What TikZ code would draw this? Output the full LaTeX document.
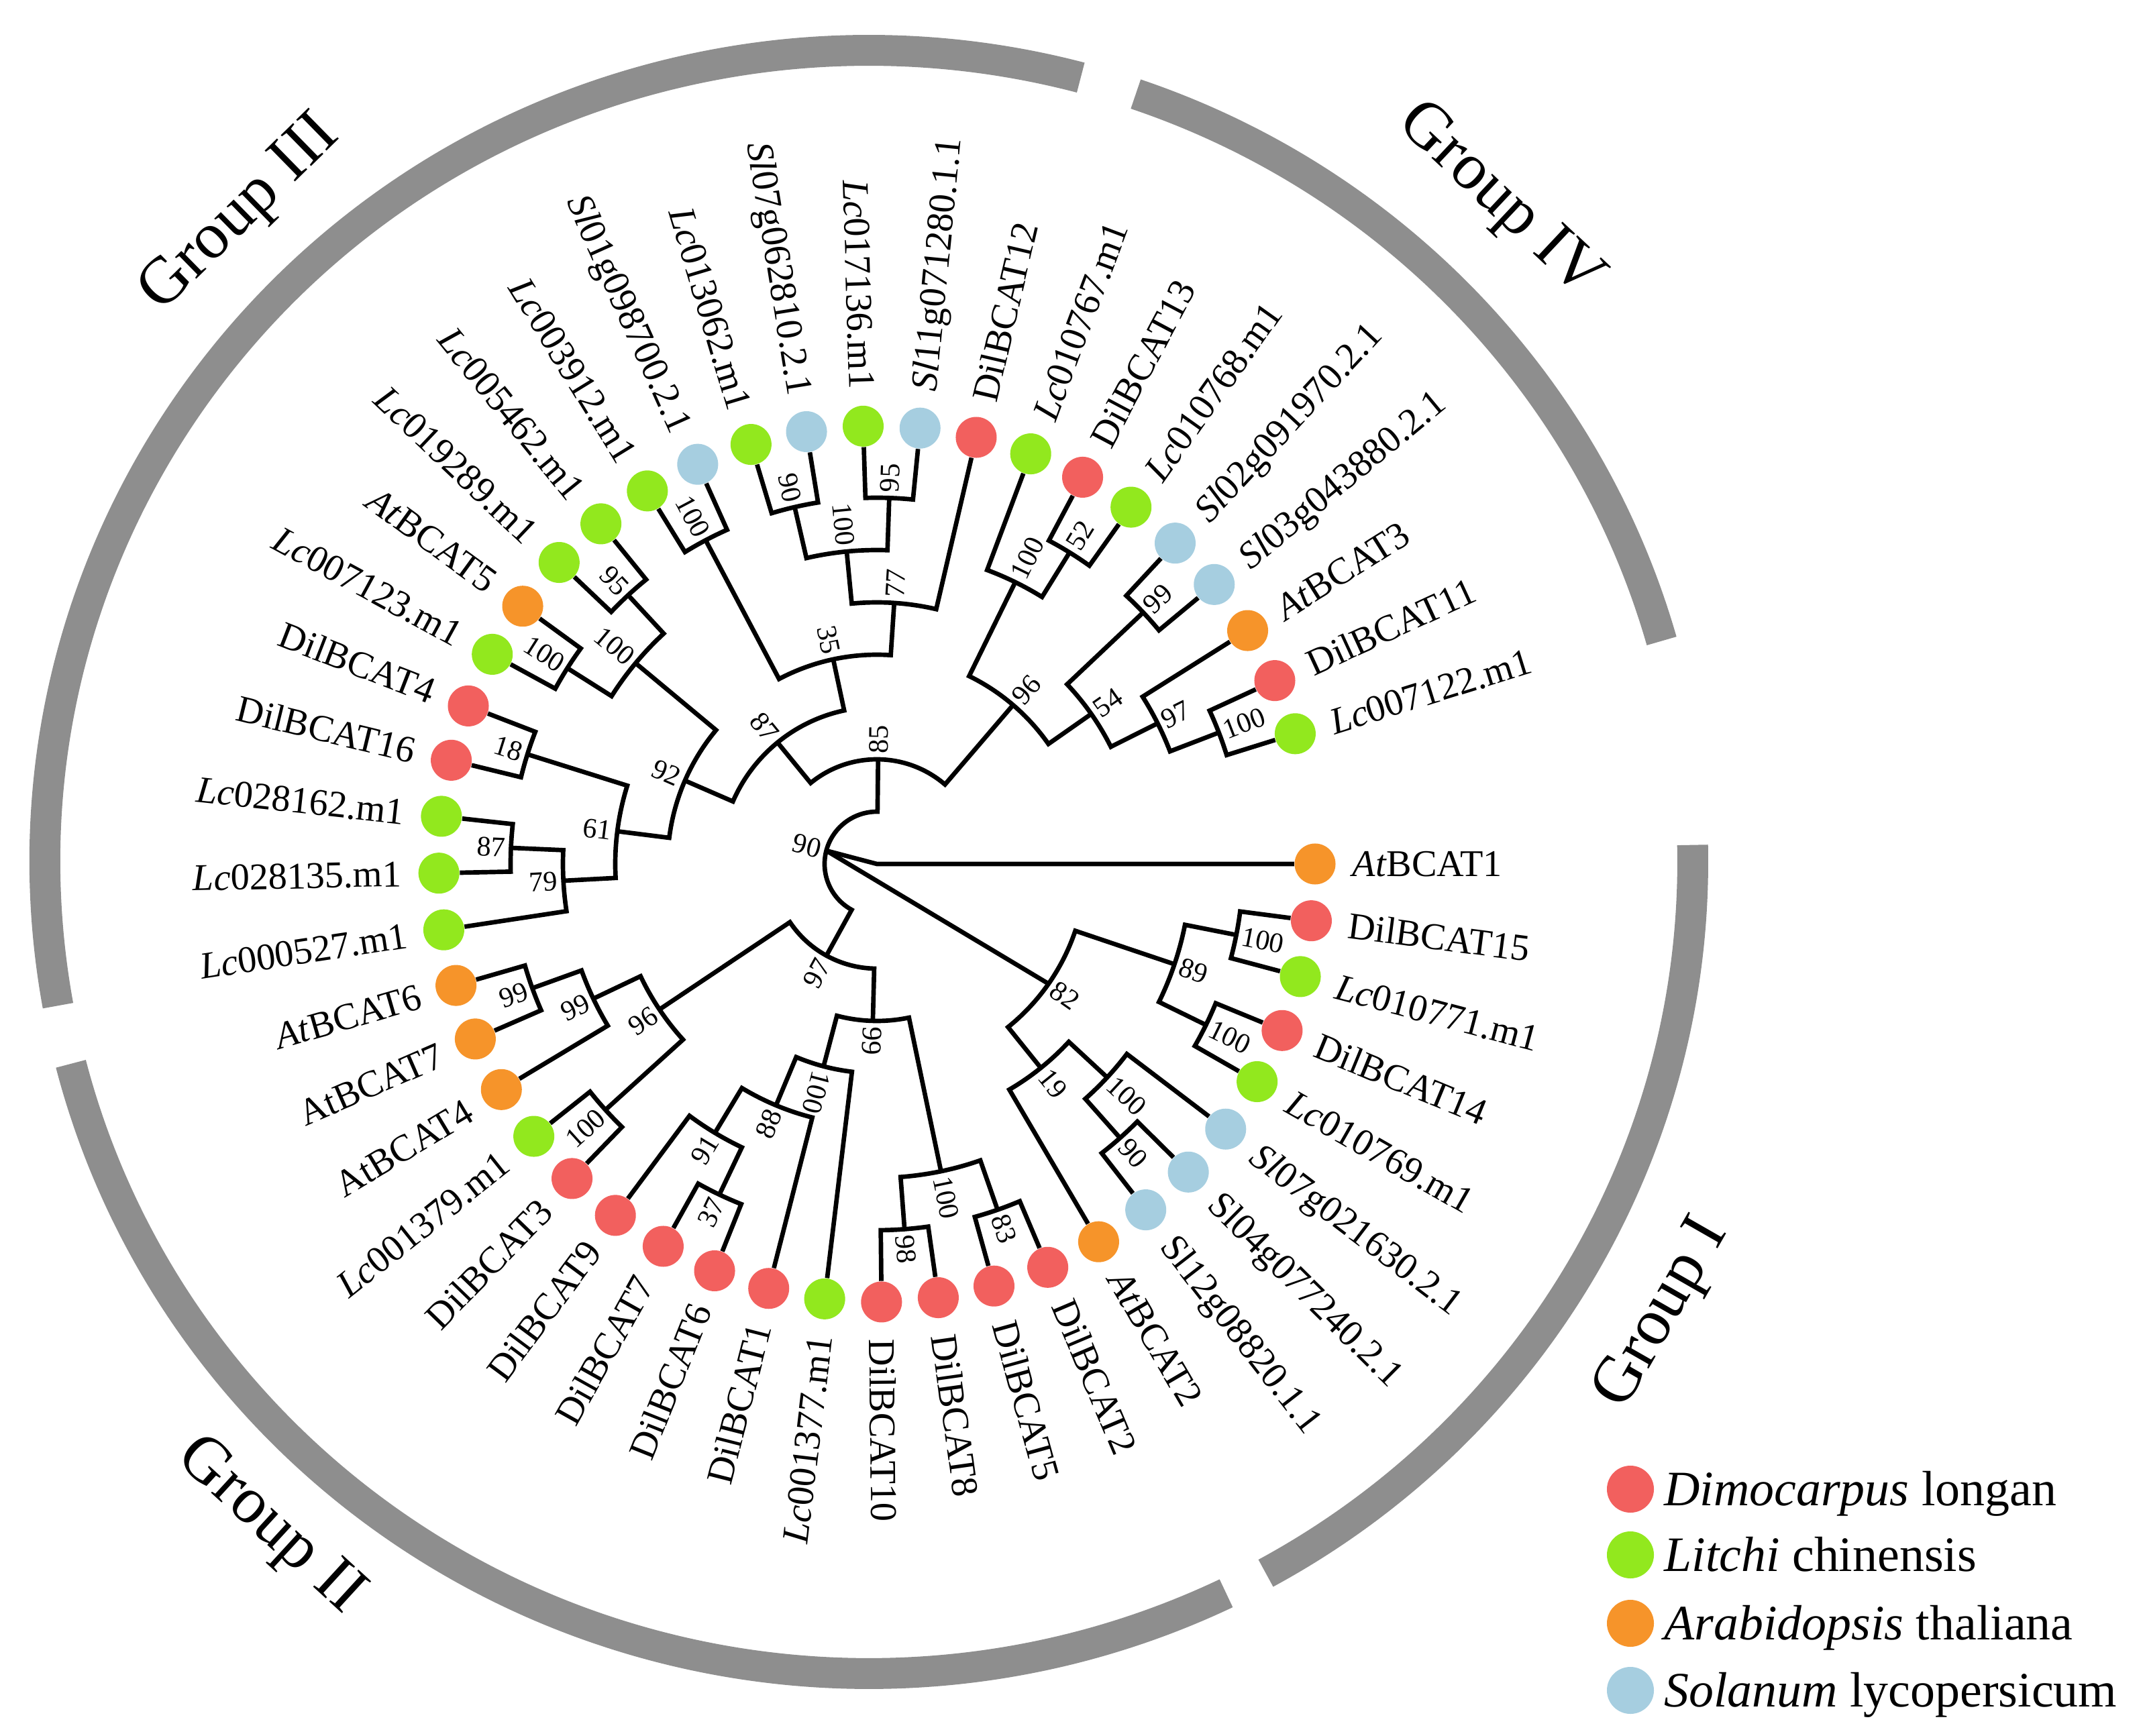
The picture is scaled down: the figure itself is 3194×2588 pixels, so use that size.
\documentclass[tikz,border=0pt]{standalone}
\usepackage{fontspec}
\setmainfont{Liberation Serif}
\usetikzlibrary{positioning}

\definecolor{dlred}{RGB}{242,96,94}
\definecolor{lcgreen}{RGB}{146,232,30}
\definecolor{atorange}{RGB}{246,148,42}
\definecolor{slblue}{RGB}{166,206,224}
\definecolor{grpgray}{RGB}{142,142,142}

\newcommand{\tip}[4]{%
  \pgfmathsetmacro\tipang{7.45*#2}%
  \expandafter\xdef\csname ang#1\endcsname{\tipang}%
  \node[leaf, fill=#3] (#1) at ({-\tipang}:653) {};
  \pgfmathtruncatemacro\lside{(\tipang<90 || \tipang>270) ? 1 : 0}%
  \ifnum\lside=1
    \node[taxon, anchor=west, rotate=-\tipang] (#1l) at ({-\tipang}:708) {#4};
  \else
    \node[taxon, anchor=east, rotate=180-\tipang] (#1l) at ({-\tipang}:708) {#4};
  \fi
}

\newcommand{\clade}[5]{%
  \edef\angA{\csname ang#2\endcsname}%
  \edef\angB{\csname ang#3\endcsname}%
  \pgfmathsetmacro\angM{(\angA+\angB)/2}%
  \expandafter\xdef\csname ang#1\endcsname{\angM}%
  \coordinate (#1) at ({-\angM}:#4);
  \draw[branch] (#2) -- ({-\angA}:#4) arc[start angle=-\angA, end angle=-\angB, radius=#4] -- (#3);
  \pgfmathtruncatemacro\lside{(\angM<110 || \angM>270) ? 1 : 0}%
  \ifnum\lside=1
    \node[boot, anchor=west, rotate=-\angM] (#1s) at ({-\angM}:{#4+8}) {#5};
  \else
    \node[boot, anchor=east, rotate=180-\angM] (#1s) at ({-\angM}:{#4+8}) {#5};
  \fi
}

\begin{document}
\begin{tikzpicture}[x=0.01cm, y=0.01cm,
  branch/.style={line width=1.9pt},
  leaf/.style={circle, minimum size=0.61cm, draw=none},
  taxon/.style={font=\fontsize{16}{18}\selectfont, text height=10.6pt, text depth=0pt},
  boot/.style={font=\fontsize{12}{14}\selectfont, text height=8.1pt, text depth=0pt},
  grp/.style={font=\fontsize{28}{32}\selectfont},
  key/.style={font=\fontsize{21}{24}\selectfont, text height=14pt, text depth=0pt},
  grparc/.style={grpgray, line width=0.46cm}]
\tikzstyle{every node}+=[inner sep=0pt]
\useasboundingbox (-1307,-1300) rectangle (1887,1288);

\tip{AtBCAT1}{0}{atorange}{\textit{At}BCAT1}
\tip{DilBCAT15}{1}{dlred}{DilBCAT15}
\tip{Lc010771}{2}{lcgreen}{\textit{Lc}010771.m1}
\tip{DilBCAT14}{3}{dlred}{DilBCAT14}
\tip{Lc010769}{4}{lcgreen}{\textit{Lc}010769.m1}
\tip{Sl07g021630}{5}{slblue}{\textit{Sl}07g021630.2.1}
\tip{Sl04g077240}{6}{slblue}{Sl04g077240.2.1}
\tip{Sl12g08820}{7}{slblue}{Sl12g08820.1.1}
\tip{AtBCAT2}{8}{atorange}{\textit{At}BCAT2}
\tip{DilBCAT2}{9}{dlred}{DilBCAT2}
\tip{DilBCAT5}{10}{dlred}{DilBCAT5}
\tip{DilBCAT8}{11}{dlred}{DilBCAT8}
\tip{DilBCAT10}{12}{dlred}{DilBCAT10}
\tip{Lc001377}{13}{lcgreen}{\textit{Lc}001377.m1}
\tip{DilBCAT1}{14}{dlred}{DilBCAT1}
\tip{DilBCAT6}{15}{dlred}{DilBCAT6}
\tip{DilBCAT7}{16}{dlred}{DilBCAT7}
\tip{DilBCAT9}{17}{dlred}{DilBCAT9}
\tip{DilBCAT3}{18}{dlred}{DilBCAT3}
\tip{Lc001379}{19}{lcgreen}{\textit{Lc}001379.m1}
\tip{AtBCAT4}{20}{atorange}{AtBCAT4}
\tip{AtBCAT7}{21}{atorange}{AtBCAT7}
\tip{AtBCAT6}{22}{atorange}{\textit{At}BCAT6}
\tip{Lc000527}{23}{lcgreen}{\textit{Lc}000527.m1}
\tip{Lc028135}{24}{lcgreen}{\textit{Lc}028135.m1}
\tip{Lc028162}{25}{lcgreen}{\textit{Lc}028162.m1}
\tip{DilBCAT16}{26}{dlred}{DilBCAT16}
\tip{DilBCAT4}{27}{dlred}{DilBCAT4}
\tip{Lc007123}{28}{lcgreen}{\textit{Lc}007123.m1}
\tip{AtBCAT5}{29}{atorange}{\textit{At}BCAT5}
\tip{Lc019289}{30}{lcgreen}{\textit{Lc}019289.m1}
\tip{Lc005462}{31}{lcgreen}{\textit{Lc}005462.m1}
\tip{Lc003912}{32}{lcgreen}{\textit{Lc}003912.m1}
\tip{Sl01g098700}{33}{slblue}{\textit{Sl}01g098700.2.1}
\tip{Lc013062}{34}{lcgreen}{\textit{Lc}013062.m1}
\tip{Sl07g062810}{35}{slblue}{\textit{Sl}07g062810.2.1}
\tip{Lc017136}{36}{lcgreen}{\textit{Lc}017136.m1}
\tip{Sl11g071280}{37}{slblue}{\textit{Sl}11g071280.1.1}
\tip{DilBCAT12}{38}{dlred}{DilBCAT12}
\tip{Lc010767}{39}{lcgreen}{\textit{Lc}010767.m1}
\tip{DilBCAT13}{40}{dlred}{DilBCAT13}
\tip{Lc010768}{41}{lcgreen}{\textit{Lc}010768.m1}
\tip{Sl02g091970}{42}{slblue}{\textit{Sl}02g091970.2.1}
\tip{Sl03g043880}{43}{slblue}{\textit{Sl}03g043880.2.1}
\tip{AtBCAT3}{44}{atorange}{\textit{At}BCAT3}
\tip{DilBCAT11}{45}{dlred}{DilBCAT11}
\tip{Lc007122}{46}{lcgreen}{\textit{Lc}007122.m1}

\clade{c100a}{DilBCAT15}{Lc010771}{546}{100}
\clade{c100b}{DilBCAT14}{Lc010769}{546}{100}
\clade{c89}{c100a}{c100b}{468}{89}
\clade{c90a}{Sl04g077240}{Sl12g08820}{546}{90}
\clade{c100c}{Sl07g021630}{c90a}{468}{100}
\clade{c19}{c100c}{AtBCAT2}{390}{19}
\clade{c82}{c89}{c19}{312}{82}
\clade{c83}{DilBCAT2}{DilBCAT5}{546}{83}
\clade{c98}{DilBCAT8}{DilBCAT10}{546}{98}
\clade{c100d}{c83}{c98}{468}{100}
\clade{c37}{DilBCAT6}{DilBCAT7}{546}{37}
\clade{c91}{c37}{DilBCAT9}{468}{91}
\clade{c88}{DilBCAT1}{c91}{390}{88}
\clade{c100e}{Lc001377}{c88}{312}{100}
\clade{c99a}{c100d}{c100e}{234}{99}
\clade{c100f}{DilBCAT3}{Lc001379}{546}{100}
\clade{c99b}{AtBCAT7}{AtBCAT6}{546}{99}
\clade{c99c}{AtBCAT4}{c99b}{468}{99}
\clade{c96a}{c100f}{c99c}{390}{96}
\clade{c97a}{c99a}{c96a}{156}{97}
\clade{c87a}{Lc028135}{Lc028162}{546}{87}
\clade{c79}{Lc000527}{c87a}{468}{79}
\clade{c18}{DilBCAT16}{DilBCAT4}{546}{18}
\clade{c61}{c79}{c18}{390}{61}
\clade{c100g}{Lc007123}{AtBCAT5}{546}{100}
\clade{c95a}{Lc019289}{Lc005462}{546}{95}
\clade{c100h}{c100g}{c95a}{468}{100}
\clade{c92}{c61}{c100h}{312}{92}
\clade{c100i}{Lc003912}{Sl01g098700}{546}{100}
\clade{c90b}{Lc013062}{Sl07g062810}{546}{90}
\clade{c95b}{Lc017136}{Sl11g071280}{546}{95}
\clade{c100j}{c90b}{c95b}{468}{100}
\clade{c77}{c100j}{DilBCAT12}{390}{77}
\clade{c35}{c100i}{c77}{312}{35}
\clade{c87b}{c92}{c35}{234}{87}
\clade{c52}{DilBCAT13}{Lc010768}{546}{52}
\clade{c100k}{Lc010767}{c52}{468}{100}
\clade{c99d}{Sl02g091970}{Sl03g043880}{546}{99}
\clade{c100l}{DilBCAT11}{Lc007122}{546}{100}
\clade{c97b}{AtBCAT3}{c100l}{468}{97}
\clade{c54}{c99d}{c97b}{390}{54}
\clade{c96b}{c100k}{c54}{312}{96}
\clade{c85}{c87b}{c96b}{156}{85}
\clade{croot}{c97a}{c85}{78}{90}

\coordinate (ctr) at (0,0);
\draw[branch] (croot) -- (ctr) -- (AtBCAT1);
\draw[branch] (croot) -- (c82);

\draw[grparc, shift={(-12,3)}] (-169.8:1228 and 1210) arc[start angle=-169.8, end angle=-284.9, x radius=1228, y radius=1210];
\draw[grparc, shift={(-12,3)}] (-288.9:1228 and 1210) arc[start angle=-288.9, end angle=-344.2, x radius=1228, y radius=1210];
\draw[grparc, shift={(-12,3)}] (1.2:1228 and 1210) arc[start angle=1.2, end angle=-61.2, x radius=1228, y radius=1210];
\draw[grparc, shift={(-12,3)}] (-64.3:1228 and 1210) arc[start angle=-64.3, end angle=-165.6, x radius=1228, y radius=1210];
\node[grp, rotate=44.4] (grp3) at (-225.6:1355) {Group III};
\node[grp, rotate=-43.2] (grp4) at (-313.2:1355) {Group IV};
\node[grp, rotate=60.2] (grp1) at (-29.8:1350) {Group I};
\node[grp, rotate=-42.5] (grp2) at (-132.5:1340) {Group II};

\node[leaf, fill=dlred, minimum size=0.7cm] (keydl) at (1123,-932) {};
\node[key, right=0.14cm of keydl] (keydlt) {\textit{Dimocarpus} longan};
\node[leaf, fill=lcgreen, minimum size=0.7cm] (keylc) at (1123,-1030) {};
\node[key, right=0.14cm of keylc] (keylct) {\textit{Litchi} chinensis};
\node[leaf, fill=atorange, minimum size=0.7cm] (keyat) at (1123,-1132) {};
\node[key, right=0.14cm of keyat] (keyatt) {\textit{Arabidopsis} thaliana};
\node[leaf, fill=slblue, minimum size=0.7cm] (keysl) at (1123,-1232) {};
\node[key, right=0.14cm of keysl] (keyslt) {\textit{Solanum} lycopersicum};
\end{tikzpicture}
\end{document}
